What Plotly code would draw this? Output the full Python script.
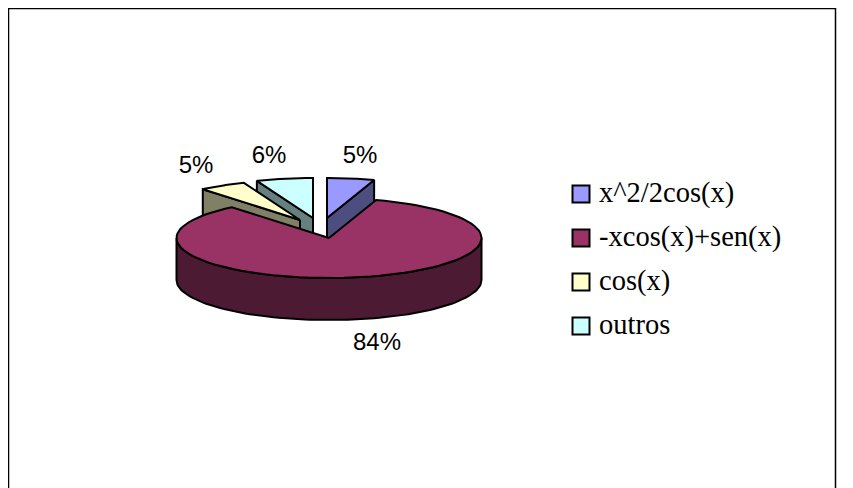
import numpy as np
import plotly.graph_objects as go

categories = ["x^2/2cos(x)", "-xcos(x)+sen(x)", "cos(x)", "outros"]
values = [5, 84, 5, 6]
top_colors = ["#9999FF", "#993366", "#FFFFCC", "#CCFFFF"]
wall_colors = ["#4D4D80", "#4D1A33", "#808066", "#668080"]

W, H = 853, 488
PAGE_MARGIN = 8
RX, RY, DEPTH = 152.5, 40, 42
CENTERS = [(327, 218), (329, 238), (300, 220), (313, 218)]
LABEL_POS = [(360, 157), (377, 344), (196, 167), (269, 157)]
DRAW_ORDER = [3, 2, 0, 1]
LEGEND_X, LEGEND_TEXT_X, LEGEND_Y, LEGEND_STEP = 581, 599, 194, 44

total = sum(values)
edges = np.concatenate([[0], np.cumsum(values)]) / total * 2 * np.pi


def rim(cx, cy, a0, a1, n=90):
    t = np.linspace(a0, a1, n)
    return cx + RX * np.sin(t), cy - RY * np.cos(t)


fig = go.Figure()


def poly(xs, ys, fill):
    fig.add_trace(go.Scatter(x=list(xs), y=list(ys), mode="lines", fill="toself",
                             fillcolor=fill, line=dict(color="black", width=2),
                             hoverinfo="skip", showlegend=False))


def cut_wall(i, a):
    cx, cy = CENTERS[i]
    px, py = rim(cx, cy, a, a, 1)
    poly([cx, px[0], px[0], cx, cx], [cy, py[0], py[0] + DEPTH, cy + DEPTH, cy], wall_colors[i])


for i in DRAW_ORDER:
    cx, cy = CENTERS[i]
    a0, a1 = edges[i], edges[i + 1]
    # only cut faces turned towards the viewer are drawn
    if a0 > np.pi:
        cut_wall(i, a0)
    if 0 < a1 < np.pi:
        cut_wall(i, a1)
    # outer curved wall: only the front half of the rim
    lo, hi = max(a0, np.pi / 2), min(a1, 3 * np.pi / 2)
    if hi > lo:
        xs, ys = rim(cx, cy, lo, hi)
        poly(np.r_[xs, xs[::-1], xs[0]], np.r_[ys, ys[::-1] + DEPTH, ys[0]], wall_colors[i])
    # top face
    xs, ys = rim(cx, cy, a0, a1)
    poly(np.r_[cx, xs, cx], np.r_[cy, ys, cy], top_colors[i])

for i, v in enumerate(values):
    fig.add_trace(go.Scatter(x=[LABEL_POS[i][0]], y=[LABEL_POS[i][1]], mode="text",
                             text=[f"{v}%"], textposition="middle center",
                             textfont=dict(family="Liberation Sans", size=24, color="black"),
                             hoverinfo="skip", showlegend=False))
    y = LEGEND_Y + i * LEGEND_STEP
    fig.add_trace(go.Scatter(x=[LEGEND_X], y=[y], mode="markers",
                             marker=dict(symbol="square", size=17, color=top_colors[i],
                                         line=dict(color="black", width=2)),
                             hoverinfo="skip", showlegend=False))
    fig.add_trace(go.Scatter(x=[LEGEND_TEXT_X], y=[y + 1], mode="text", text=[categories[i]],
                             textposition="middle right",
                             textfont=dict(family="Liberation Serif", size=28.5, color="black"),
                             hoverinfo="skip", showlegend=False))

fig.update_layout(
    width=W, height=H, margin=dict(l=0, r=0, t=0, b=0), autosize=False,
    paper_bgcolor="white", plot_bgcolor="white", showlegend=False,
    xaxis=dict(range=[PAGE_MARGIN, PAGE_MARGIN + W], visible=False, fixedrange=True),
    yaxis=dict(range=[PAGE_MARGIN + H, PAGE_MARGIN], visible=False, fixedrange=True),
    shapes=[dict(type="rect", xref="x", yref="y", x0=8.5, y0=8.5, x1=835.5, y1=500,
                 line=dict(color="black", width=1.5), layer="below")],
)
fig.write_html("out.html", config={"displayModeBar": False})
